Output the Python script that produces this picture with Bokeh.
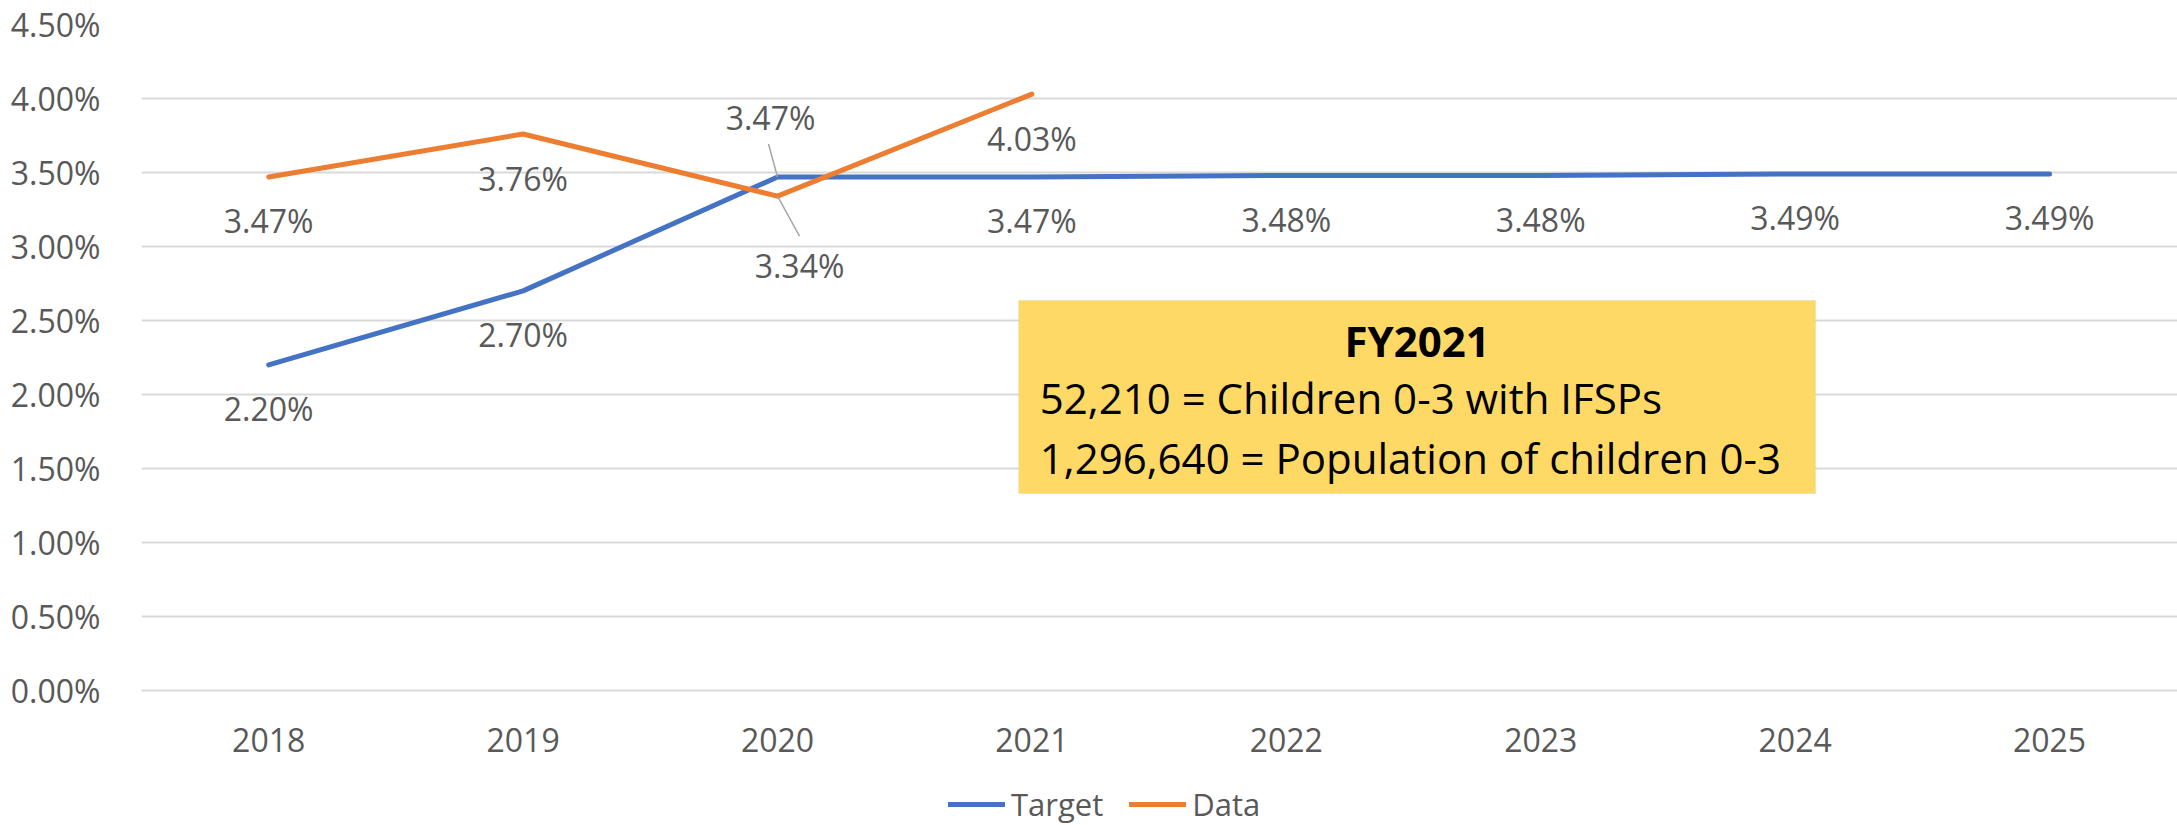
from bokeh.plotting import figure
from bokeh.layouts import column
from bokeh.models import (Range1d, FixedTicker, PrintfTickFormatter, ColumnDataSource,
                          Legend, LegendItem, BoxAnnotation, Label)
from bokeh.core.properties import value
from bokeh.embed import file_html
from bokeh.resources import INLINE

# ---------------- data ----------------
categories = ["2018", "2019", "2020", "2021", "2022", "2023", "2024", "2025"]
target_values = [2.20, 2.70, 3.47, 3.47, 3.48, 3.48, 3.49, 3.49]
data_categories = ["2018", "2019", "2020", "2021"]
data_values = [3.47, 3.76, 3.34, 4.03]
y_tick_values = [0.0, 0.5, 1.0, 1.5, 2.0, 2.5, 3.0, 3.5, 4.0, 4.5]
box_title = "FY2021"
box_lines = ["52,210 = Children 0-3 with IFSPs",
             "1,296,640 = Population of children 0-3"]
series_names = ["Target", "Data"]

# ---------------- style ----------------
FONT = "Open Sans"
TXT = "#595959"
BLUE = "#4472C4"
ORANGE = "#ED7D31"
GRID = "#D9D9D9"

target_x_off = [0, 0, -7, 0, 0, 0, 0, 0]
target_y_off = [44, 44, -59, 44, 44, 44, 44, 44]
data_x_off = [0, 0, 22, 0]
data_y_off = [44, 44, 69, 44]

W = 2177
H_MAIN, H_LEG = 780, 45
X0, X1 = -0.5, 7.503
BL, BT = 141, 24
FRAME_H = 666

p = figure(width=W, height=H_MAIN, output_backend="svg", toolbar_location=None, title=None,
           x_range=Range1d(X0, X1), y_range=Range1d(0, 4.5),
           min_border_left=BL, min_border_right=0, min_border_top=BT,
           min_border_bottom=H_MAIN - BT - FRAME_H)
p.outline_line_color = None
p.background_fill_color = "white"
p.border_fill_color = "white"

# axes
p.xaxis.ticker = FixedTicker(ticks=list(range(len(categories))))
p.xaxis.major_label_overrides = {i: c for i, c in enumerate(categories)}
p.xaxis.axis_line_color = GRID
p.xaxis.axis_line_width = 2
p.xaxis.major_tick_line_color = None
p.xaxis.minor_tick_line_color = None
p.xaxis.major_label_text_font = FONT
p.xaxis.major_label_text_font_size = "32px"
p.xaxis.major_label_text_color = TXT
p.xaxis.major_label_standoff = 31

p.yaxis.ticker = FixedTicker(ticks=y_tick_values)
p.yaxis.formatter = PrintfTickFormatter(format="%.2f%%")
p.yaxis.axis_line_color = None
p.yaxis.major_tick_line_color = None
p.yaxis.minor_tick_line_color = None
p.yaxis.major_label_text_font = FONT
p.yaxis.major_label_text_font_size = "32px"
p.yaxis.major_label_text_color = TXT
p.yaxis.major_label_standoff = 35

p.xgrid.visible = False
p.ygrid.grid_line_color = GRID
p.ygrid.grid_line_width = 2

# lines
tx = list(range(len(categories)))
dx = [categories.index(c) for c in data_categories]
p.line(tx, target_values, line_color=BLUE, line_width=5, line_cap="round", line_join="round")
p.line(dx, data_values, line_color=ORANGE, line_width=5, line_cap="round", line_join="round")

# leader lines for the 2020 labels (pixel offsets converted to data units)
px_x = (X1 - X0) / (W - BL)
px_y = 4.5 / FRAME_H
i20 = categories.index("2020")
j20 = data_categories.index("2020")
p.segment(x0=[i20 - 9 * px_x, dx[j20]], y0=[target_values[i20] + 33 * px_y, data_values[j20]],
          x1=[i20, dx[j20] + 22 * px_x], y1=[target_values[i20], data_values[j20] - 40 * px_y],
          line_color="#A6A6A6", line_width=1.5)

# data labels
src_t = ColumnDataSource(dict(x=tx, y=target_values, t=[f"{v:.2f}%" for v in target_values],
                              xo=target_x_off, yo=target_y_off))
src_d = ColumnDataSource(dict(x=dx, y=data_values, t=[f"{v:.2f}%" for v in data_values],
                              xo=data_x_off, yo=data_y_off))
for s in (src_t, src_d):
    p.text(x="x", y="y", text="t", x_offset="xo", y_offset="yo", source=s,
           text_font=value(FONT), text_font_size="32px", text_color=TXT,
           text_align="center", text_baseline="middle")

# annotation box
bx0, bx1, by0, by1 = 2.948, 6.080, 1.331, 2.635
p.add_layout(BoxAnnotation(left=bx0, right=bx1, bottom=by0, top=by1,
                           fill_color="#FFD966", fill_alpha=1.0,
                           line_color="#C9C9C9", line_width=1, level="overlay"))
p.add_layout(Label(x=(bx0 + bx1) / 2, y=2.368, text=box_title, text_font=FONT,
                   text_font_size="42px", text_font_style="bold", text_color="black",
                   text_align="center", text_baseline="middle", level="overlay"))
for ly, t in zip([1.982, 1.576], box_lines):
    p.add_layout(Label(x=3.031, y=ly, text=t, text_font=FONT, text_font_size="42px",
                       text_color="black", text_align="left", text_baseline="middle",
                       level="overlay"))

# legend strip (separate small figure under the chart; its frame is aligned with the chart's)
q = figure(width=W, height=H_LEG, output_backend="svg", toolbar_location=None, title=None,
           x_range=Range1d(0, 1), y_range=Range1d(0, 1),
           x_axis_location=None, y_axis_location=None,
           min_border_left=0, min_border_right=0, min_border_top=0, min_border_bottom=0)
q.outline_line_color = None
q.xgrid.visible = False
q.ygrid.visible = False
lt = q.line([-5, -4], [-5, -5], line_color=BLUE, line_width=5, line_cap="round")
ld = q.line([-5, -4], [-5, -5], line_color=ORANGE, line_width=5, line_cap="round")
legend = Legend(items=[LegendItem(label=series_names[0], renderers=[lt]),
                       LegendItem(label=series_names[1], renderers=[ld])],
                orientation="horizontal", location=(948 - BL, 0),
                glyph_width=57, glyph_height=20, label_standoff=6, spacing=26,
                padding=0, margin=0, border_line_color=None, background_fill_alpha=0,
                label_text_font=FONT, label_text_font_size="31px", label_text_color=TXT)
q.add_layout(legend, "center")

layout = column(p, q, spacing=0)
open("out.html", "w").write(file_html(layout, INLINE))
